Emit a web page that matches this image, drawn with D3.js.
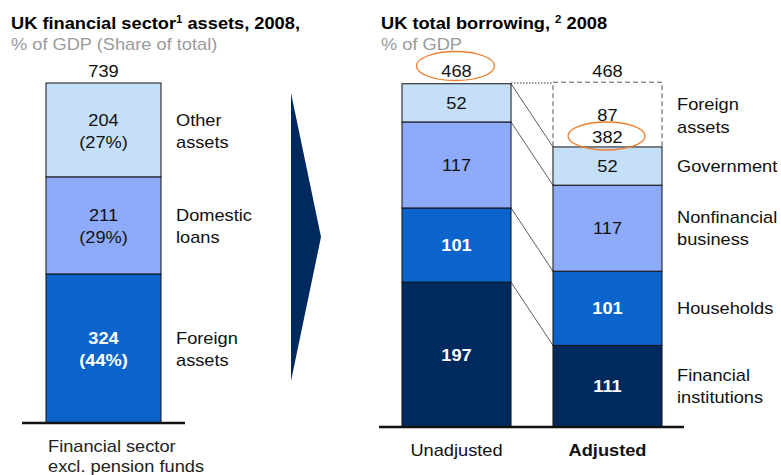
<!DOCTYPE html>
<html>
<head>
<meta charset="utf-8">
<script src="https://cdn.jsdelivr.net/npm/d3@7"></script>
<style>
  html, body { margin: 0; padding: 0; background: #fff; }
  svg { display: block; font-family: "Liberation Sans", Arial, sans-serif; }
</style>
</head>
<body>
<svg id="chart" width="781" height="475"></svg>
<script>
// ---- Left panel: UK financial sector assets, 2008 (% of GDP) ----
const assetGroup = ["Financial sector excl. pension funds"];
const assetCategories = ["Foreign assets", "Domestic loans", "Other assets"];
const assetValues = [324, 211, 204];
const assetShares = [44, 29, 27];
const assetTotal = 739;

// ---- Right panel: UK total borrowing, 2008 (% of GDP) ----
const borrowGroups = ["Unadjusted", "Adjusted"];
const borrowSectors = ["Financial institutions", "Households", "Nonfinancial business", "Government"];
const unadjustedValues = [197, 101, 117, 52];
const adjustedValues = [111, 101, 117, 52];
const foreignAssetsAdj = 87;
const borrowTotals = [468, 382];
const sectorLabels = [["Financial", "institutions"], ["Households"], ["Nonfinancial", "business"], ["Government"]];

const colors = ["#002a5e", "#0a64cc", "#8eabfa", "#c6dff9"];
const assetColors = ["#0a64cc", "#8eabfa", "#c6dff9"];
const whiteText = [true, true, false, false];

const svg = d3.select("#chart");
const ink = "#111";
const STRETCH = 1.14; // wide setting of the type

// text helper: placed at (x, y) and set slightly wide
function txt(g, x, y, str, opts = {}) {
  const t = g.append("text")
    .attr("transform", `translate(${x},${y}) scale(${STRETCH},1)`)
    .attr("font-size", opts.size || 16)
    .attr("font-weight", opts.bold ? "bold" : "normal")
    .attr("fill", opts.fill || "#111")
    .attr("text-anchor", opts.anchor || "start");
  if (str !== null) t.text(str);
  return t;
}

// Titles
function title(x, parts) {
  const t = txt(svg, x, 29, null, {bold: true, fill: "#000"});
  parts.forEach(p => {
    const s = t.append("tspan").text(p.text);
    if (p.sup) s.attr("font-size", 10).attr("baseline-shift", "super");
  });
}
title(11, [{text: "UK financial sector"}, {text: "1", sup: true}, {text: " assets, 2008,"}]);
txt(svg, 11, 50, "% of GDP (Share of total)", {fill: "#9a9a9a"});
title(381, [{text: "UK total borrowing, "}, {text: "2", sup: true}, {text: " 2008"}]);
txt(svg, 381, 50, "% of GDP", {fill: "#9a9a9a"});

// ---- Left stacked bar ----
const xL = d3.scaleBand().domain(assetGroup).range([22, 185]).paddingInner(0).paddingOuter(0.2087);
const yL = d3.scaleLinear().domain([0, assetTotal]).range([423, 83]);
const leftStack = d3.stack().keys(assetCategories)([Object.fromEntries(assetCategories.map((c, i) => [c, assetValues[i]]))]);

const gL = svg.append("g");
leftStack.forEach((s, i) => {
  const d = s[0];
  gL.append("rect")
    .attr("x", xL(assetGroup[0])).attr("width", xL.bandwidth())
    .attr("y", yL(d[1])).attr("height", yL(d[0]) - yL(d[1]))
    .attr("fill", assetColors[i]).attr("stroke", ink).attr("stroke-width", 1);
  const cy = (yL(d[0]) + yL(d[1])) / 2;
  const cx = xL(assetGroup[0]) + xL.bandwidth() / 2;
  const bold = i === 0;
  const fill = bold ? "#fff" : "#111";
  txt(gL, cx, cy - 4, assetValues[i], {anchor: "middle", bold, fill});
  txt(gL, cx, cy + 18, "(" + assetShares[i] + "%)", {anchor: "middle", bold, fill});
  assetCategories[i].split(" ").forEach((w, k) => {
    txt(gL, 176, cy - 4 + k * 22, w);
  });
});
txt(gL, xL(assetGroup[0]) + xL.bandwidth() / 2, 77, assetTotal, {anchor: "middle"});
gL.append("line").attr("x1", xL.range()[0]).attr("x2", xL.range()[1])
  .attr("y1", yL(0)).attr("y2", yL(0)).attr("stroke", ink).attr("stroke-width", 2.5);
["Financial sector", "excl. pension funds"].forEach((t, k) => {
  txt(gL, 48, 452 + k * 20, t, {fill: "#222"});
});

// ---- Arrow ----
svg.append("path").attr("d", d3.line()([[291, 93], [321, 237], [291, 381]]) + "Z")
  .attr("fill", "#002a5e");

// ---- Right stacked bars ----
const xR = d3.scaleBand().domain(borrowGroups).range([381, 683]).paddingInner(0.278).paddingOuter(0.139);
const yR = d3.scaleLinear().domain([0, d3.max(borrowTotals)]).range([427, 83]);
const rows = [unadjustedValues, adjustedValues].map(vals =>
  Object.fromEntries(borrowSectors.map((s, i) => [s, vals[i]])));
const rightStack = d3.stack().keys(borrowSectors)(rows);

const gR = svg.append("g");

// connector lines between matching segment tops
const xu = xR("Unadjusted") + xR.bandwidth();
const xa = xR("Adjusted");
rightStack.forEach(s => {
  gR.append("line").attr("x1", xu).attr("y1", yR(s[0][1]))
    .attr("x2", xa).attr("y2", yR(s[1][1]))
    .attr("stroke", "#333").attr("stroke-width", 0.8);
});
gR.append("line").attr("x1", xu).attr("x2", xa)
  .attr("y1", yR(borrowTotals[0])).attr("y2", yR(borrowTotals[0]))
  .attr("stroke", "#333").attr("stroke-width", 1).attr("stroke-dasharray", "1.5,1.5");

// foreign assets adjustment (dashed outline)
const adjTop = yR(borrowTotals[1] + foreignAssetsAdj);
const adjBot = yR(borrowTotals[1]);
gR.append("path")
  .attr("d", d3.line()([[xa, adjBot], [xa, adjTop], [xa + xR.bandwidth(), adjTop], [xa + xR.bandwidth(), adjBot]]))
  .attr("fill", "none").attr("stroke", "#555").attr("stroke-width", 1).attr("stroke-dasharray", "5,3");

rightStack.forEach((s, i) => {
  s.forEach((d, j) => {
    const x = xR(borrowGroups[j]);
    gR.append("rect").attr("x", x).attr("width", xR.bandwidth())
      .attr("y", yR(d[1])).attr("height", yR(d[0]) - yR(d[1]))
      .attr("fill", colors[i]).attr("stroke", ink).attr("stroke-width", 1);
    const cy = (yR(d[0]) + yR(d[1])) / 2;
    txt(gR, x + xR.bandwidth() / 2, cy + 6, d.data[borrowSectors[i]], {
      anchor: "middle", bold: whiteText[i], fill: whiteText[i] ? "#fff" : "#111"});
  });
  // sector labels to the right, centred on the adjusted segment
  const d = s[1];
  const cy = (yR(d[0]) + yR(d[1])) / 2;
  const lines = sectorLabels[i];
  lines.forEach((t, k) => {
    txt(gR, 677, cy + 6 + (k - (lines.length - 1) / 2) * 22, t);
  });
});
["Foreign", "assets"].forEach((t, k) => txt(gR, 677, 110 + k * 23, t));

// totals
const cU = xR("Unadjusted") + xR.bandwidth() / 2;
const cA = xR("Adjusted") + xR.bandwidth() / 2;
txt(gR, cU, 77, borrowTotals[0], {anchor: "middle"});
txt(gR, cA, 77, borrowTotals[0], {anchor: "middle"});
txt(gR, cA, 121, foreignAssetsAdj, {anchor: "middle"});
txt(gR, cA, 143, borrowTotals[1], {anchor: "middle"});

// highlight ellipses
gR.append("ellipse").attr("cx", cU - 1).attr("cy", 66).attr("rx", 39).attr("ry", 14.5)
  .attr("fill", "none").attr("stroke", "#ef7d2c").attr("stroke-width", 1.3);
gR.append("ellipse").attr("cx", cA - 1).attr("cy", 136).attr("rx", 38.5).attr("ry", 14)
  .attr("fill", "none").attr("stroke", "#ef7d2c").attr("stroke-width", 1.3);

gR.append("line").attr("x1", xR.range()[0] - 2).attr("x2", xR.range()[1] + 1)
  .attr("y1", yR(0)).attr("y2", yR(0)).attr("stroke", ink).attr("stroke-width", 2.5);

// category labels
txt(gR, cU, 456, borrowGroups[0], {anchor: "middle"});
txt(gR, cA, 456, borrowGroups[1], {anchor: "middle", bold: true});
</script>
</body>
</html>
